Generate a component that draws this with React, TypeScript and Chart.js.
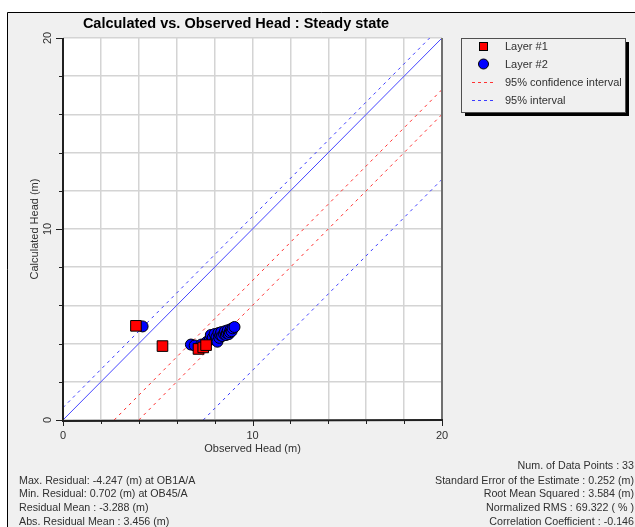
import React, { useEffect, useRef } from "react";
import { Chart, registerables } from "chart.js";

Chart.register(...registerables);

// ---- data ----
const layer1X = [3.85, 5.25, 7.15, 7.4, 7.55];
const layer1Y = [4.93, 3.87, 3.72, 3.8, 3.92];

const layer2X = [4.2, 6.75, 6.95, 7.3, 7.6, 7.75, 7.8, 7.9, 8.0, 8.05, 8.1, 8.15, 8.2, 8.25, 8.3, 8.35, 8.4, 8.5, 8.55, 8.6, 8.65, 8.7, 8.75, 8.8, 8.85, 8.9, 8.95, 9.05];
const layer2Y = [4.9, 3.95, 3.9, 3.95, 4.1, 4.2, 4.45, 4.3, 4.5, 4.2, 4.35, 4.1, 4.55, 4.3, 4.45, 4.6, 4.4, 4.5, 4.65, 4.45, 4.55, 4.7, 4.5, 4.6, 4.75, 4.65, 4.8, 4.87];

const identityX = [0, 20];
const identityY = [0, 20];
const upperIntervalX = [0, 19.35];
const upperIntervalY = [0.65, 20];
const confUpperX = [2.7, 20];
const confUpperY = [0, 17.3];
const confLowerX = [4.0, 20];
const confLowerY = [0, 16.0];
const lowerIntervalX = [7.4, 20];
const lowerIntervalY = [0, 12.6];

const axisMin = 0;
const axisMax = 20;
const gridStep = 2;
const majorTicks = [0, 10, 20];

const titleText = "Calculated vs. Observed Head : Steady state";
const xAxisTitle = "Observed Head (m)";
const yAxisTitle = "Calculated Head (m)";
const legendLabels = ["Layer #1", "Layer #2", "95% confidence interval", "95% interval"];
const leftStats = [
  "Max. Residual: -4.247 (m) at OB1A/A",
  "Min. Residual: 0.702 (m) at OB45/A",
  "Residual Mean : -3.288 (m)",
  "Abs. Residual Mean : 3.456 (m)",
];
const rightStats = [
  "Num. of Data Points : 33",
  "Standard Error of the Estimate : 0.252 (m)",
  "Root Mean Squared : 3.584 (m)",
  "Normalized RMS : 69.322 ( % )",
  "Correlation Coefficient : -0.146",
];

const RED = "#ff0000";
const BLUE = "#0000ff";
const RED_DASH = "rgb(255,50,50)";
const BLUE_DASH = "rgb(60,60,255)";
const SOLID_BLUE = "rgb(70,70,255)";
const FONT = "'Liberation Sans', Arial, sans-serif";

const refLines = [
  { xs: identityX, ys: identityY, color: SOLID_BLUE, dash: [] as number[] },
  { xs: upperIntervalX, ys: upperIntervalY, color: BLUE_DASH, dash: [3, 4] },
  { xs: confUpperX, ys: confUpperY, color: RED_DASH, dash: [3, 4] },
  { xs: confLowerX, ys: confLowerY, color: RED_DASH, dash: [3, 4] },
  { xs: lowerIntervalX, ys: lowerIntervalY, color: BLUE_DASH, dash: [3, 4] },
];

const pts = (xs: number[], ys: number[]) => xs.map((x, i) => ({ x, y: ys[i] }));

const decor = {
  id: "decor",
  beforeDraw(chart: any) {
    const ctx = chart.ctx as CanvasRenderingContext2D;
    const { left, top, right, bottom } = chart.chartArea;
    ctx.save();
    ctx.fillStyle = "#ffffff";
    ctx.fillRect(0, 0, chart.width, chart.height);
    ctx.fillStyle = "#f0f0f0";
    ctx.fillRect(7, 12, chart.width - 7, chart.height - 12);
    ctx.strokeStyle = "#000";
    ctx.lineWidth = 1;
    ctx.beginPath();
    ctx.moveTo(7.5, chart.height);
    ctx.lineTo(7.5, 12.5);
    ctx.lineTo(chart.width, 12.5);
    ctx.stroke();
    ctx.fillStyle = "#ffffff";
    ctx.fillRect(left, top, right - left, bottom - top);
    ctx.restore();
  },
  beforeDatasetsDraw(chart: any) {
    const ctx = chart.ctx as CanvasRenderingContext2D;
    const { left, top, right, bottom } = chart.chartArea;
    const xs = chart.scales.x;
    const ys = chart.scales.y;
    ctx.save();
    ctx.beginPath();
    ctx.rect(left, top, right - left, bottom - top);
    ctx.clip();
    ctx.lineWidth = 1;
    for (const l of refLines) {
      ctx.setLineDash(l.dash);
      ctx.strokeStyle = l.color;
      ctx.beginPath();
      ctx.moveTo(xs.getPixelForValue(l.xs[0]), ys.getPixelForValue(l.ys[0]));
      ctx.lineTo(xs.getPixelForValue(l.xs[1]), ys.getPixelForValue(l.ys[1]));
      ctx.stroke();
    }
    ctx.setLineDash([]);
    ctx.restore();
  },
  afterDraw(chart: any) {
    const ctx = chart.ctx as CanvasRenderingContext2D;
    const { left, top, right, bottom } = chart.chartArea;
    const xs = chart.scales.x;
    const ys = chart.scales.y;
    ctx.save();
    ctx.setLineDash([]);
    // plot borders
    ctx.strokeStyle = "#707070";
    ctx.lineWidth = 2;
    ctx.beginPath();
    ctx.moveTo(right, top);
    ctx.lineTo(right, bottom);
    ctx.stroke();
    ctx.strokeStyle = "#202020";
    ctx.beginPath();
    ctx.moveTo(left, top);
    ctx.lineTo(left, bottom + 1);
    ctx.lineTo(right + 1, bottom);
    ctx.stroke();
    // ticks
    ctx.lineWidth = 1;
    ctx.strokeStyle = "#202020";
    for (let v = axisMin; v <= axisMax; v += gridStep) {
      const major = majorTicks.includes(v);
      const px = Math.round(xs.getPixelForValue(v)) + 0.5;
      ctx.beginPath();
      ctx.moveTo(px, bottom);
      ctx.lineTo(px, bottom + (major ? 6 : 4));
      ctx.stroke();
      const py = Math.round(ys.getPixelForValue(v)) + 0.5;
      ctx.beginPath();
      ctx.moveTo(left, py);
      ctx.lineTo(left - (major ? 7 : 4), py);
      ctx.stroke();
    }
    // tick labels
    ctx.fillStyle = "#303030";
    ctx.font = `11px ${FONT}`;
    ctx.textAlign = "center";
    ctx.textBaseline = "middle";
    for (const v of majorTicks) {
      ctx.fillText(String(v), xs.getPixelForValue(v), bottom + 16);
      ctx.save();
      ctx.translate(left - 15, ys.getPixelForValue(v));
      ctx.rotate(-Math.PI / 2);
      ctx.fillText(String(v), 0, 0);
      ctx.restore();
    }
    // axis titles
    ctx.fillText(xAxisTitle, (left + right) / 2, 449);
    ctx.save();
    ctx.translate(35, (top + bottom) / 2);
    ctx.rotate(-Math.PI / 2);
    ctx.fillText(yAxisTitle, 0, 0);
    ctx.restore();
    // title
    ctx.fillStyle = "#000";
    ctx.font = `bold 14.5px ${FONT}`;
    ctx.fillText(titleText, 236, 24);
    // legend box
    const bx = 461, by = 38, bw = 164, bh = 74;
    ctx.fillStyle = "#000";
    ctx.fillRect(bx + 4, by + bh, bw, 4);
    ctx.fillRect(bx + bw, by + 4, 4, bh);
    ctx.strokeStyle = "#505050";
    ctx.lineWidth = 1;
    ctx.strokeRect(bx + 0.5, by + 0.5, bw, bh);
    // legend markers
    ctx.fillStyle = RED;
    ctx.strokeStyle = "#000";
    ctx.fillRect(479, 42, 9, 9);
    ctx.strokeRect(479.5, 42.5, 8, 8);
    ctx.beginPath();
    ctx.arc(483.5, 64, 5, 0, Math.PI * 2);
    ctx.fillStyle = BLUE;
    ctx.fill();
    ctx.stroke();
    ctx.setLineDash([3, 3]);
    ctx.strokeStyle = RED_DASH;
    ctx.beginPath();
    ctx.moveTo(472, 82.5);
    ctx.lineTo(495, 82.5);
    ctx.stroke();
    ctx.strokeStyle = BLUE_DASH;
    ctx.beginPath();
    ctx.moveTo(472, 100.5);
    ctx.lineTo(495, 100.5);
    ctx.stroke();
    ctx.setLineDash([]);
    ctx.fillStyle = "#303030";
    ctx.font = `11px ${FONT}`;
    ctx.textAlign = "left";
    const ly = [47, 65, 83, 101];
    legendLabels.forEach((t, i) => ctx.fillText(t, 505, ly[i]));
    // stats
    ctx.font = `10.7px ${FONT}`;
    const lsY = [481, 494.5, 508, 522];
    leftStats.forEach((t, i) => ctx.fillText(t, 19, lsY[i]));
    ctx.textAlign = "right";
    const rsY = [466, 481, 494.5, 508, 522];
    rightStats.forEach((t, i) => ctx.fillText(t, 634, rsY[i]));
    ctx.restore();
  },
};

export default function App() {
  const ref = useRef<HTMLCanvasElement>(null);
  useEffect(() => {
    if (!ref.current) return;
    const chart = new Chart(ref.current, {
      type: "scatter",
      data: {
        datasets: [
          {
            label: "Layer #1",
            data: pts(layer1X, layer1Y),
            pointStyle: "rect",
            pointRadius: 7.5,
            backgroundColor: RED,
            borderColor: "#000",
            borderWidth: 1,
          },
          {
            label: "Layer #2",
            data: pts(layer2X, layer2Y),
            pointStyle: "circle",
            pointRadius: 5.5,
            backgroundColor: BLUE,
            borderColor: "#000",
            borderWidth: 1,
          },
        ],
      },
      options: {
        responsive: false,
        animation: false,
        devicePixelRatio: 1,
        layout: { padding: { left: 63, top: 38, right: 193, bottom: 107 } },
        plugins: { legend: { display: false }, tooltip: { enabled: false }, title: { display: false } },
        scales: {
          x: {
            type: "linear",
            min: axisMin,
            max: axisMax,
            ticks: { stepSize: gridStep, display: false },
            grid: { color: "#d4d4d4", lineWidth: 1.5, drawTicks: false },
            border: { display: false },
            afterFit: (s: any) => { s.height = 0; },
          },
          y: {
            type: "linear",
            min: axisMin,
            max: axisMax,
            ticks: { stepSize: gridStep, display: false },
            grid: { color: "#d4d4d4", lineWidth: 1.5, drawTicks: false },
            border: { display: false },
            afterFit: (s: any) => { s.width = 0; },
          },
        },
      } as any,
      plugins: [decor],
    });
    return () => chart.destroy();
  }, []);
  return (
    <div style={{ position: "fixed", left: 0, top: 0, width: 635, height: 527 }}>
      <canvas ref={ref} width={635} height={527} style={{ display: "block" }} />
    </div>
  );
}
